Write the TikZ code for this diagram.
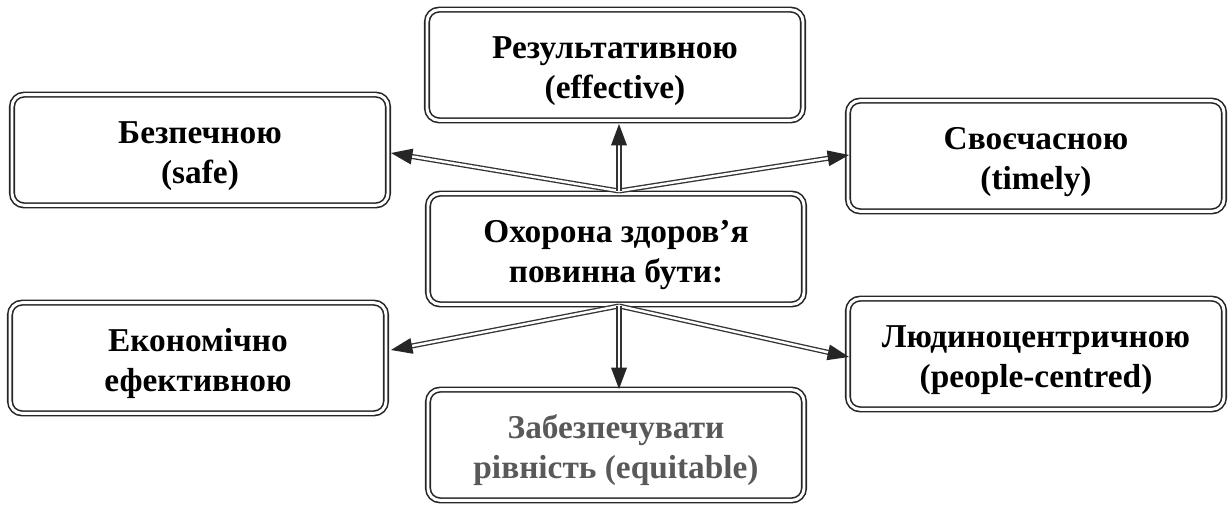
\documentclass[tikz,border=0pt]{standalone}
\usepackage{fontspec}
\setmainfont{Liberation Serif}
\usetikzlibrary{arrows.meta,calc}
\newcommand\firststrut{\rule{0pt}{26pt}}
\begin{document}
\begin{tikzpicture}[x=0.75pt,y=-0.75pt,
  box/.style={draw=black!85, double=white, double distance=2.2pt, line width=1.2pt,
    rounded corners=9pt, minimum width=282pt, minimum height=83pt,
    align=center, font=\bfseries\fontsize{25}{30}\selectfont, inner sep=0pt},
  conn/.style={draw=black!80, double=white, double distance=1.8pt, line width=1pt,
    shorten >=11pt},
  tip/.style={fill=black!85, draw=none}]
\useasboundingbox (0,0) rectangle (1232,505);
\node[box] (top) at (615,65) {\firststrut Результативною\\(effective)};
\node[box] (l1) at (200,150) {\firststrut Безпечною\\(safe)};
\node[box] (r1) at (1036,156) {\firststrut Своєчасною\\(timely)};
\node[box] (c) at (616,249) {\firststrut Охорона здоров’я\\повинна бути:};
\node[box] (l2) at (198,358) {\firststrut Економічно\\ефективною};
\node[box] (r2) at (1036,354) {\firststrut Людиноцентричною\\(people-centred)};
\node[box, text=black!65] (b) at (616,445) {\firststrut Забезпечувати\\рівність (equitable)};
\coordinate (ct) at (619,191);
\coordinate (cb) at (619,306);
\coordinate (tl1) at (391,153);
\coordinate (tr1) at (849,155);
\coordinate (ttop) at (619,124);
\coordinate (tl2) at (391,350);
\coordinate (tr2) at (849,357);
\coordinate (tb) at (619,389);
\foreach \s/\e in {ct/tl1, ct/tr1, ct/ttop, cb/tl2, cb/tr2, cb/tb}{
  \draw[conn] (\s) -- (\e);
  \fill[tip] (\e) -- ($(\e)!16pt!(\s)!6pt!90:(\s)$) -- ($(\e)!16pt!(\s)!6pt!-90:(\s)$) -- cycle;
}
\end{tikzpicture}
\end{document}
